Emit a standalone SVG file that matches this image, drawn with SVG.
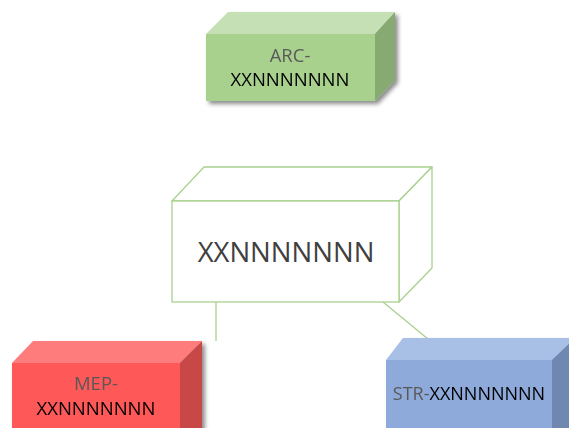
<svg xmlns="http://www.w3.org/2000/svg" width="569" height="428" viewBox="0 0 569 428">
<style>
.t{font-family:"Open Sans","Liberation Sans",sans-serif;text-anchor:middle}
.pre{fill:#595959}
.code{fill:#000}
.conn{stroke:#a9d18e;stroke-width:1.3;fill:none}
</style>
<defs>
<filter id="sh" x="-20%" y="-20%" width="150%" height="160%">
<feDropShadow dx="3" dy="3" stdDeviation="2" flood-color="#000" flood-opacity="0.45"/>
</filter>
</defs>
<g id="connectors">
<line class="conn" x1="216" y1="302" x2="216" y2="341"/>
<line class="conn" x1="383" y1="302" x2="428" y2="339"/>
</g>
<g id="arc" filter="url(#sh)">
<polygon points="206,34 228,12 395,12 375,34" fill="#c5e0b4"/>
<polygon points="375,34 395,12 395,80 375,101" fill="#87aa72"/>
<rect x="206" y="34" width="169" height="67" fill="#a9d18e"/>
<text class="t pre" x="290" y="62" font-size="18.5">ARC-</text>
<text class="t code" x="290" y="86" font-size="18.5">XXNNNNNNN</text>
</g>
<g id="center">
<polygon points="172,201 204,167 432,167 399,201" fill="#fff" stroke="#a9d18e" stroke-width="1.3" stroke-linejoin="round"/>
<polygon points="399,201 432,167 432,268 399,302" fill="#fff" stroke="#a9d18e" stroke-width="1.3" stroke-linejoin="round"/>
<rect x="172" y="201" width="227" height="101" fill="#fff" stroke="#a9d18e" stroke-width="1.3"/>
<text class="t" x="286" y="262" font-size="27.5" fill="#404040">XXNNNNNNN</text>
</g>
<g id="mep" filter="url(#sh)">
<polygon points="12,363 33,341 202,341 180,363" fill="#ff7c7c"/>
<polygon points="180,363 202,341 202,440 180,440" fill="#c84646"/>
<rect x="12" y="363" width="168" height="80" fill="#ff5858"/>
<text class="t pre" x="96" y="390" font-size="18.5">MEP-</text>
<text class="t code" x="96" y="415" font-size="18.5">XXNNNNNNN</text>
</g>
<g id="str" filter="url(#sh)">
<polygon points="386,360 403,338 575,338 552,360" fill="#a8bfe6"/>
<polygon points="552,360 575,338 575,440 552,440" fill="#6f87b2"/>
<rect x="386" y="360" width="166" height="80" fill="#8eaadb"/>
<text class="t" x="469" y="400" font-size="18"><tspan class="pre">STR-</tspan><tspan class="code">XXNNNNNNN</tspan></text>
</g>
</svg>
